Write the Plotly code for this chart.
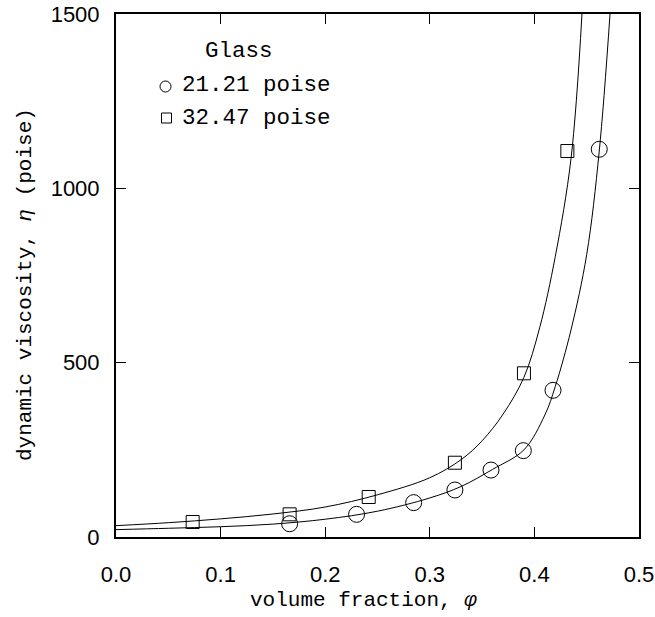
import plotly.graph_objects as go

# ---- data ----
phi_21 = [0.166, 0.230, 0.2846, 0.324, 0.3585, 0.3894, 0.4178, 0.462]
eta_21 = [38, 65, 98.6, 134.8, 192, 247.7, 420.7, 1112]

phi_32 = [0.0733, 0.166, 0.2416, 0.324, 0.390, 0.4315]
eta_32 = [43, 65, 114.7, 213, 469.5, 1107]

# fitted curves
curve21_phi = [0.0, 0.05, 0.10, 0.15, 0.20, 0.25, 0.30, 0.33, 0.36, 0.39, 0.41, 0.42, 0.435, 0.45, 0.462, 0.4723]
curve21_eta = [21.2, 25, 29.5, 37, 51, 74, 112, 145, 194, 250, 350, 432, 594, 810, 1107, 1500]

curve32_phi = [0.0, 0.05, 0.10, 0.15, 0.20, 0.25, 0.30, 0.33, 0.35, 0.37, 0.39, 0.405, 0.42, 0.435, 0.4455]
curve32_eta = [32.5, 41, 52, 66, 86, 121, 170, 222, 276, 352, 458, 600, 805, 1085, 1500]

x_ticks = [0.0, 0.1, 0.2, 0.3, 0.4, 0.5]
x_ticklabels = ["0.0", "0.1", "0.2", "0.3", "0.4", "0.5"]
y_ticks = [0, 500, 1000, 1500]
y_ticklabels = ["0", "500", "1000", "1500"]

legend_title = "Glass"
legend_labels = ["21.21 poise", "32.47 poise"]

SANS = "Liberation Sans, Arial, sans-serif"
SERIF = "Liberation Mono, Courier New, monospace"

fig = go.Figure()

fig.add_trace(go.Scatter(x=curve21_phi, y=curve21_eta, mode="lines",
                         line=dict(color="black", width=1, shape="spline", smoothing=1),
                         showlegend=False, hoverinfo="skip"))
fig.add_trace(go.Scatter(x=curve32_phi, y=curve32_eta, mode="lines",
                         line=dict(color="black", width=1, shape="spline", smoothing=1),
                         showlegend=False, hoverinfo="skip"))
fig.add_trace(go.Scatter(x=phi_21, y=eta_21, mode="markers", name=legend_labels[0],
                         marker=dict(symbol="circle-open", size=16, color="black",
                                     line=dict(width=1, color="black")),
                         showlegend=False))
fig.add_trace(go.Scatter(x=phi_32, y=eta_32, mode="markers", name=legend_labels[1],
                         marker=dict(symbol="square-open", size=13, color="black",
                                     line=dict(width=1, color="black")),
                         showlegend=False))

axis_common = dict(showgrid=False, zeroline=False, showline=True, linecolor="black",
                   linewidth=2, mirror="ticks", ticks="inside", ticklen=10,
                   tickwidth=1, tickcolor="black", automargin=False,
                   tickfont=dict(family=SANS, size=22, color="black"))

fig.update_xaxes(range=[0, 0.5], tickvals=x_ticks, ticktext=x_ticklabels,
                 ticklabelstandoff=17, **axis_common)
fig.update_yaxes(range=[0, 1500], tickvals=y_ticks, ticktext=y_ticklabels,
                 ticklabelstandoff=10, **axis_common)

W, H = 655, 617
L, R, T, B = 116, 16, 14, 80
pw, ph = W - L - R, H - T - B


def px(xp):
    return (xp - L) / pw


def py(yp):
    return (T + ph - yp) / ph


# legend symbols
fig.add_shape(type="circle", xref="paper", yref="paper",
              x0=px(160), x1=px(171), y0=py(92), y1=py(81),
              line=dict(color="black", width=1))
fig.add_shape(type="rect", xref="paper", yref="paper",
              x0=px(161.5), x1=px(171.5), y0=py(123), y1=py(113),
              line=dict(color="black", width=1))

ann_font = dict(family=SERIF, size=22.5, color="black")
fig.add_annotation(text=legend_title, xref="paper", yref="paper",
                   x=px(238.7), y=py(51), xanchor="center", yanchor="middle",
                   showarrow=False, font=ann_font)
fig.add_annotation(text=legend_labels[0], xref="paper", yref="paper",
                   x=px(180), y=py(85), xanchor="left", yanchor="middle",
                   showarrow=False, font=ann_font)
fig.add_annotation(text=legend_labels[1], xref="paper", yref="paper",
                   x=px(180), y=py(117.5), xanchor="left", yanchor="middle",
                   showarrow=False, font=ann_font)

# axis titles
fig.add_annotation(text="volume fraction, <i>φ</i>", xref="paper", yref="paper",
                   x=px(363.5), y=py(600), xanchor="center", yanchor="middle",
                   showarrow=False, font=dict(family=SERIF, size=21, color="black"))
fig.add_annotation(text="dynamic viscosity, <i>η</i> (poise)", xref="paper", yref="paper",
                   x=px(25), y=py(285), xanchor="center", yanchor="middle",
                   textangle=-90, showarrow=False,
                   font=dict(family=SERIF, size=21, color="black"))

fig.update_layout(width=W, height=H, margin=dict(l=L, r=R, t=T, b=B, autoexpand=False),
                  paper_bgcolor="white", plot_bgcolor="white", showlegend=False)

fig.write_html("out.html", config={"displayModeBar": False},
               post_script="document.body.style.margin='0';document.body.style.overflow='hidden';")
